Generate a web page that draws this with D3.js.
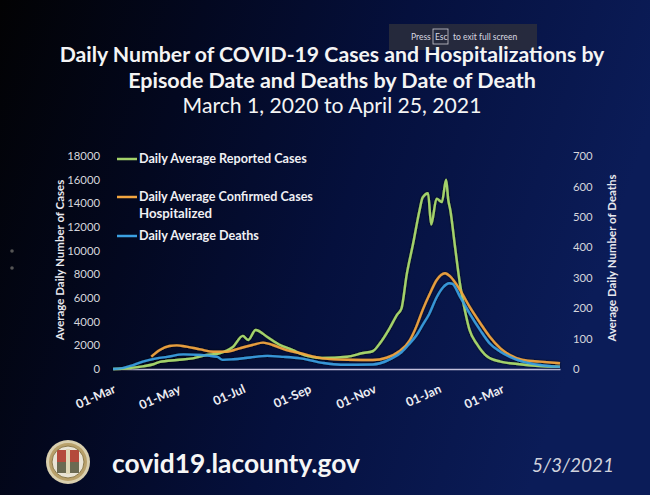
<!DOCTYPE html>
<html><head><meta charset="utf-8">
<script src="https://cdn.jsdelivr.net/npm/d3@7/dist/d3.min.js"></script>
<style>
html,body{margin:0;padding:0;background:#000;overflow:hidden}
svg{display:block}
text{font-family:Lato,"Open Sans",sans-serif}
</style></head>
<body><svg id="c" width="650" height="495"></svg>
<script>
// ---------- data ----------
const titleLines = ["Daily Number of COVID-19 Cases and Hospitalizations by",
                    "Episode Date and Deaths by Date of Death",
                    "March 1, 2020 to April 25, 2021"];
const seriesNames = ["Daily Average Reported Cases",
                     "Daily Average Confirmed Cases|Hospitalized",
                     "Daily Average Deaths"];
const casesDates = ["2020-03-01","2020-03-15","2020-03-29","2020-04-08","2020-04-14","2020-04-30","2020-05-15","2020-05-28","2020-06-09","2020-06-22","2020-07-01","2020-07-06","2020-07-13","2020-07-24","2020-08-05","2020-08-17","2020-08-24","2020-09-14","2020-10-07","2020-10-22","2020-10-31","2020-11-07","2020-11-16","2020-11-23","2020-11-27","2020-12-02","2020-12-08","2020-12-14","2020-12-17","2020-12-22","2020-12-25","2020-12-30","2021-01-04","2021-01-08","2021-01-10","2021-01-12","2021-01-16","2021-01-21","2021-01-26","2021-01-30","2021-02-06","2021-02-15","2021-02-28","2021-03-16","2021-04-06","2021-04-25"];
const casesValues = [0,60,220,400,600,760,900,1180,1330,1890,2800,2450,3300,2700,2030,1600,1300,930,1040,1350,1500,2200,3460,4600,5100,8000,10600,13400,14500,14850,12200,14400,14100,16000,14300,13400,10600,7200,4800,3300,2100,1100,620,420,250,190];
const hospDates = ["2020-04-06","2020-04-14","2020-04-23","2020-04-30","2020-05-09","2020-05-22","2020-06-03","2020-06-16","2020-06-28","2020-07-10","2020-07-20","2020-07-29","2020-08-11","2020-08-24","2020-09-14","2020-10-07","2020-10-31","2020-11-13","2020-11-25","2020-12-05","2020-12-11","2020-12-17","2020-12-24","2020-12-30","2021-01-07","2021-01-12","2021-01-21","2021-01-30","2021-02-09","2021-02-18","2021-02-28","2021-03-09","2021-03-21","2021-04-06","2021-04-25"];
const hospValues = [1040,1600,1940,2000,1890,1660,1460,1460,1750,2030,2230,2030,1600,1330,900,780,760,950,1500,2450,3580,5000,6420,7500,8090,7800,6680,5270,3890,2730,1750,1180,760,620,480];
const deathDates = ["2020-03-01","2020-03-10","2020-03-20","2020-03-29","2020-04-11","2020-04-21","2020-05-06","2020-05-22","2020-06-07","2020-06-12","2020-06-22","2020-07-08","2020-07-24","2020-08-08","2020-08-24","2020-09-14","2020-10-01","2020-10-31","2020-11-07","2020-11-18","2020-11-27","2020-12-05","2020-12-11","2020-12-17","2020-12-23","2020-12-30","2021-01-05","2021-01-11","2021-01-14","2021-01-21","2021-01-30","2021-02-09","2021-02-18","2021-02-28","2021-03-09","2021-03-21","2021-04-06","2021-04-25"];
const deathValues = [0,3,13,24,35,40,48,46,40,30,32,38,43,40,35,20,14,15,19,35,55,85,110,145,180,235,268,282,280,238,183,128,84,57,40,24,13,7];
const leftTicks = [0,2000,4000,6000,8000,10000,12000,14000,16000,18000];
const rightTicks = [0,100,200,300,400,500,600,700];
const xTickDates = ["2020-03-01","2020-05-01","2020-07-01","2020-09-01","2020-11-01","2021-01-01","2021-03-01"];
const footerUrl = "covid19.lacounty.gov";
const footerDate = "5/3/2021";

// ---------- setup ----------
const svg = d3.select("#c");
const W = 650, H = 495;
const parse = d3.timeParse("%Y-%m-%d");
const colors = ["#a3d16a", "#f2a540", "#3ba0e2"];

const defs = svg.append("defs");
const bg = defs.append("linearGradient").attr("id","bg").attr("x1","0").attr("y1","0").attr("x2","1").attr("y2","0.25");
[["0%","#020203"],["30%","#030820"],["60%","#05103d"],["100%","#0b1c58"]].forEach(s=>bg.append("stop").attr("offset",s[0]).attr("stop-color",s[1]));
svg.append("rect").attr("width",W).attr("height",H).attr("fill","url(#bg)");
const glow = defs.append("filter").attr("id","sh").attr("x","-5%").attr("y","-5%").attr("width","110%").attr("height","110%");
glow.append("feDropShadow").attr("dx",0).attr("dy",0).attr("stdDeviation",1.2).attr("flood-color","#000").attr("flood-opacity",0.9);

// small artifact dots at left edge
svg.append("circle").attr("cx",12).attr("cy",251).attr("r",1.8).attr("fill","#555");
svg.append("circle").attr("cx",12).attr("cy",268).attr("r",1.8).attr("fill","#555");

// fullscreen notice
const ntc = svg.append("g");
ntc.append("rect").attr("x",389).attr("y",24).attr("width",148).attr("height",26).attr("fill","#2b2e3c").attr("opacity",0.85);
ntc.append("text").attr("x",411).attr("y",40).attr("font-size",8.5).attr("fill","#d8d8e0").attr("font-family","'Open Sans',sans-serif").text("Press");
ntc.append("rect").attr("x",433).attr("y",29).attr("width",15).attr("height",15).attr("fill","none").attr("stroke","#c8c8d0").attr("stroke-width",0.8);
ntc.append("text").attr("x",435).attr("y",40).attr("font-size",8.5).attr("fill","#d8d8e0").attr("font-family","'Open Sans',sans-serif").text("Esc");
ntc.append("text").attr("x",453).attr("y",40).attr("font-size",8.5).attr("fill","#d8d8e0").attr("font-family","'Open Sans',sans-serif").text("to exit full screen");

// title
function fitText(sel, w){ const l = sel.node().getComputedTextLength(); const fs = parseFloat(sel.attr("font-size")); sel.attr("font-size", fs * w / l); return sel; }
const cx = 332;
fitText(svg.append("text").attr("x",cx).attr("y",62).attr("text-anchor","middle").attr("font-size",20).attr("font-weight","bold").attr("fill","#f4f4f4").text(titleLines[0]), 545);
fitText(svg.append("text").attr("x",cx).attr("y",88).attr("text-anchor","middle").attr("font-size",20).attr("font-weight","bold").attr("fill","#f4f4f4").text(titleLines[1]), 408);
fitText(svg.append("text").attr("x",cx).attr("y",113).attr("text-anchor","middle").attr("font-size",19).attr("fill","#f4f4f4").text(titleLines[2]), 299);

// scales
const x0 = 113, x1 = 560, yTop = 156, yBot = 369;
const x = d3.scaleTime().domain([parse("2020-03-01"), parse("2021-04-25")]).range([x0, x1]);
const yL = d3.scaleLinear().domain([0,18000]).range([yBot, yTop]);
const yR = d3.scaleLinear().domain([0,700]).range([yBot, yTop]);

// left axis
const gl = svg.append("g").attr("transform",`translate(${x0},0)`)
  .call(d3.axisLeft(yL).tickValues(leftTicks).tickSize(0).tickPadding(13).tickFormat(d3.format("d")));
gl.select(".domain").remove();
gl.selectAll("text").attr("font-size",11.3).attr("fill","#d6d6dc").attr("font-family","Lato,sans-serif");
// right axis
const gr = svg.append("g").attr("transform",`translate(${x1},0)`)
  .call(d3.axisRight(yR).tickValues(rightTicks).tickSize(0).tickPadding(13).tickFormat(d3.format("d")));
gr.select(".domain").remove();
gr.selectAll("text").attr("font-size",11.3).attr("fill","#d6d6dc").attr("font-family","Lato,sans-serif");

// axis titles
svg.append("text").attr("transform","translate(64,260) rotate(-90)").attr("text-anchor","middle")
  .attr("font-size",11.5).attr("font-weight","bold").attr("fill","#e8e8ee").text("Average Daily Number of Cases");
svg.append("text").attr("transform","translate(616,258) rotate(-90)").attr("text-anchor","middle")
  .attr("font-size",11.5).attr("font-weight","bold").attr("fill","#e8e8ee").text("Average Daily Number of Deaths");

// x axis
const gx = svg.append("g").attr("transform",`translate(0,${yBot})`)
  .call(d3.axisBottom(x).tickValues(xTickDates.map(parse)).tickSize(0).tickFormat(d3.timeFormat("%d-%b")));
gx.select(".domain").attr("stroke","#c2c0dc").attr("stroke-width",1.6);
gx.selectAll(".tick text").attr("font-size",12.5).attr("font-weight","bold").attr("fill","#ececf2")
  .attr("text-anchor","end").attr("dy",0).attr("y",0)
  .attr("transform","translate(3,23) rotate(-24)");

// lines
const mk = (dates, vals) => dates.map((d,i)=>({d:parse(d), v:vals[i]}));
const cases = mk(casesDates, casesValues), hosp = mk(hospDates, hospValues), deaths = mk(deathDates, deathValues);
const lineL = d3.line().x(p=>x(p.d)).y(p=>yL(p.v)).curve(d3.curveMonotoneX);
const lineR = d3.line().x(p=>x(p.d)).y(p=>yR(p.v)).curve(d3.curveMonotoneX);
const lg = svg.append("g").attr("filter","url(#sh)");
lg.append("path").datum(cases).attr("d",lineL).attr("fill","none").attr("stroke",colors[0]).attr("stroke-width",2.4).attr("stroke-linejoin","round");
lg.append("path").datum(hosp).attr("d",lineL).attr("fill","none").attr("stroke",colors[1]).attr("stroke-width",2.4).attr("stroke-linejoin","round").attr("opacity",0.92);
lg.append("path").datum(deaths).attr("d",lineR).attr("fill","none").attr("stroke",colors[2]).attr("stroke-width",2.4).attr("stroke-linejoin","round").attr("opacity",0.9);

// legend
const leg = svg.append("g");
const legY = [159, 197, 236];
const legW = [[168],[174,73],[120]];
seriesNames.forEach((n,i)=>{
  leg.append("line").attr("x1",117).attr("x2",137).attr("y1",legY[i]).attr("y2",legY[i]).attr("stroke",colors[i]).attr("stroke-width",2.5);
  n.split("|").forEach((part,j)=>{
    fitText(leg.append("text").attr("x",139).attr("y",legY[i]+4+j*17).attr("font-size",12).attr("font-weight","bold").attr("fill","#f0f0f4").text(part), legW[i][j]);
  });
});

// footer seal
const seal = svg.append("g").attr("transform","translate(68,462)");
seal.append("circle").attr("r",22).attr("fill","#d9cfae");
seal.append("circle").attr("r",19).attr("fill","#b8a06a");
seal.append("circle").attr("r",16).attr("fill","#e9e4d6");
seal.append("rect").attr("x",-11).attr("y",-12).attr("width",22).attr("height",12).attr("fill","#b44a3c");
seal.append("rect").attr("x",-11).attr("y",0).attr("width",22).attr("height",11).attr("fill","#6b6a52");
seal.append("rect").attr("x",-2).attr("y",-13).attr("width",4).attr("height",25).attr("fill","#e0d8b8");
seal.append("circle").attr("r",16).attr("fill","none").attr("stroke","#8c7a4a").attr("stroke-width",1);

fitText(svg.append("text").attr("x",112).attr("y",473).attr("font-size",22).attr("font-weight","bold").attr("fill","#f6f6f6").text(footerUrl), 248);
svg.append("text").attr("x",614).attr("y",472).attr("text-anchor","end").attr("font-size",19).attr("font-style","italic").attr("fill","#d0d2dc").text(footerDate);
</script></body></html>
